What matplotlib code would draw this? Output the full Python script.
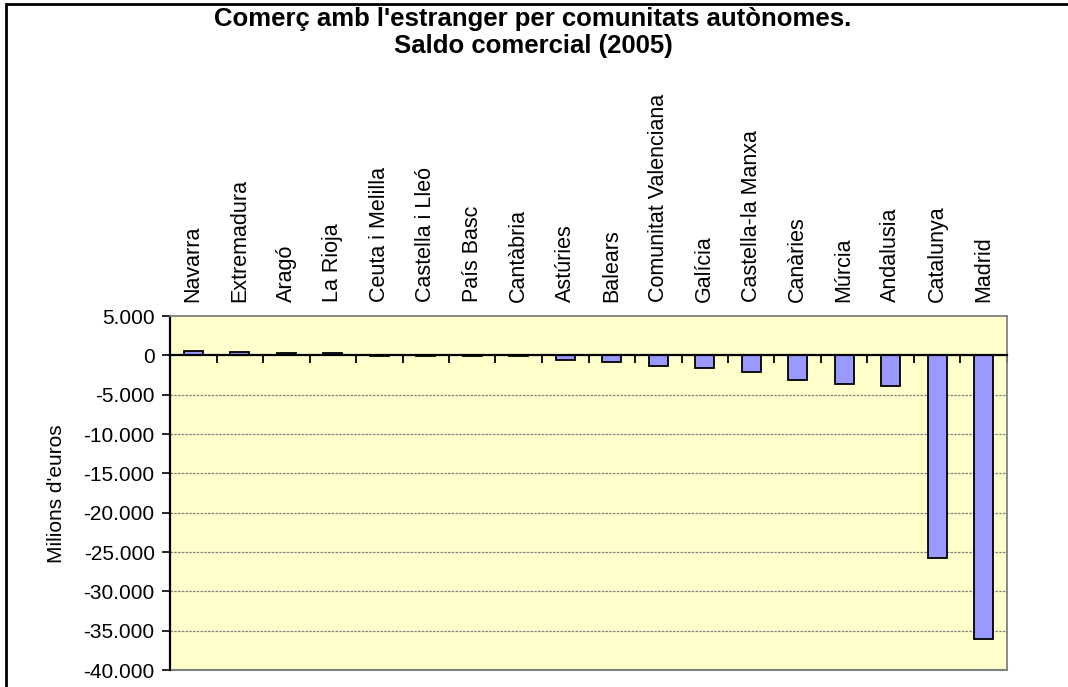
import matplotlib
matplotlib.use("Agg")
import matplotlib.pyplot as plt
from matplotlib.patches import Rectangle
from matplotlib.ticker import FuncFormatter
import matplotlib.transforms as mtransforms

plt.rcParams['font.family'] = ['Liberation Sans', 'DejaVu Sans']

categories = ["Navarra", "Extremadura", "Aragó", "La Rioja", "Ceuta i Melilla",
              "Castella i Lleó", "País Basc", "Cantàbria", "Astúries", "Balears",
              "Comunitat Valenciana", "Galícia", "Castella-la Manxa", "Canàries",
              "Múrcia", "Andalusia", "Catalunya", "Madrid"]
values = [500, 480, 300, 280, -30, -30, -30, -30, -600, -850,
          -1360, -1660, -2130, -3150, -3660, -3910, -25700, -36000]
yticks = [5000, 0, -5000, -10000, -15000, -20000, -25000, -30000, -35000, -40000]
title_lines = ["Comerç amb l'estranger per comunitats autònomes.", "Saldo comercial (2005)"]

W, H = 1068, 687
fig = plt.figure(figsize=(W / 100, H / 100), dpi=100)
fig.patch.set_facecolor('white')

# outer chart border
fig.patches.append(Rectangle((6 / W, -0.05), 1.2, (H - 4) / H + 0.05, transform=fig.transFigure,
                             fill=False, edgecolor='black', linewidth=2, zorder=0))

left, right, top, bottom = 170, 1007, 316, 670
ax = fig.add_axes([left / W, (H - bottom) / H, (right - left) / W, (bottom - top) / H])
ax.set_facecolor('#FFFFCC')

n = len(categories)
xs = list(range(n))
ax.bar(xs, values, width=0.4, color='#9999FF', edgecolor='black', linewidth=1.3, zorder=3)

ax.set_xlim(-0.5, n - 0.5)
ax.set_ylim(-40000, 5000)
ax.set_yticks(yticks)
ax.yaxis.set_major_formatter(FuncFormatter(lambda v, p: f"{int(v):,}".replace(",", ".")))
ax.tick_params(axis='y', direction='out', length=6, width=1.2, labelsize=15, pad=5, colors='black')

for yv in yticks:
    if yv not in (0, 5000, -40000):
        ax.axhline(yv, color='#808080', linestyle=(0, (2, 1)), linewidth=0.9, zorder=1)

# plot-area grey border
for s in ['top', 'right']:
    ax.spines[s].set_color('#808080')
    ax.spines[s].set_linewidth(1.3)
ax.spines['left'].set_color('black')
ax.spines['left'].set_linewidth(1.6)
ax.spines['bottom'].set_position(('data', 0))
ax.spines['bottom'].set_color('black')
ax.spines['bottom'].set_linewidth(1.6)
ax.spines['bottom'].set_zorder(4)
ax.plot([0, 1], [0, 0], transform=ax.transAxes, color='#808080', linewidth=1.5, clip_on=False, zorder=2)

ax.set_xticks([i - 0.5 for i in range(n + 1)])
ax.set_xticklabels([])
ax.tick_params(axis='x', direction='out', length=6, width=1.3, colors='black')

trans = mtransforms.blended_transform_factory(ax.transData, ax.transAxes)
for i, c in enumerate(categories):
    ax.text(i, 1 + 14 / (bottom - top), c, rotation=90, ha='center', va='bottom',
            fontsize=15.5, transform=trans)

fig.text(57 / W, 1 - 494 / H, "Milions d'euros", rotation=90, ha='center', va='center', fontsize=15)
fig.text(533 / W, 1 - 19 / H, title_lines[0], ha='center', va='center', fontsize=18.5, fontweight='bold')
fig.text(533 / W, 1 - 46 / H, title_lines[1], ha='center', va='center', fontsize=18.5, fontweight='bold')

fig.savefig("out.png", dpi=100)
